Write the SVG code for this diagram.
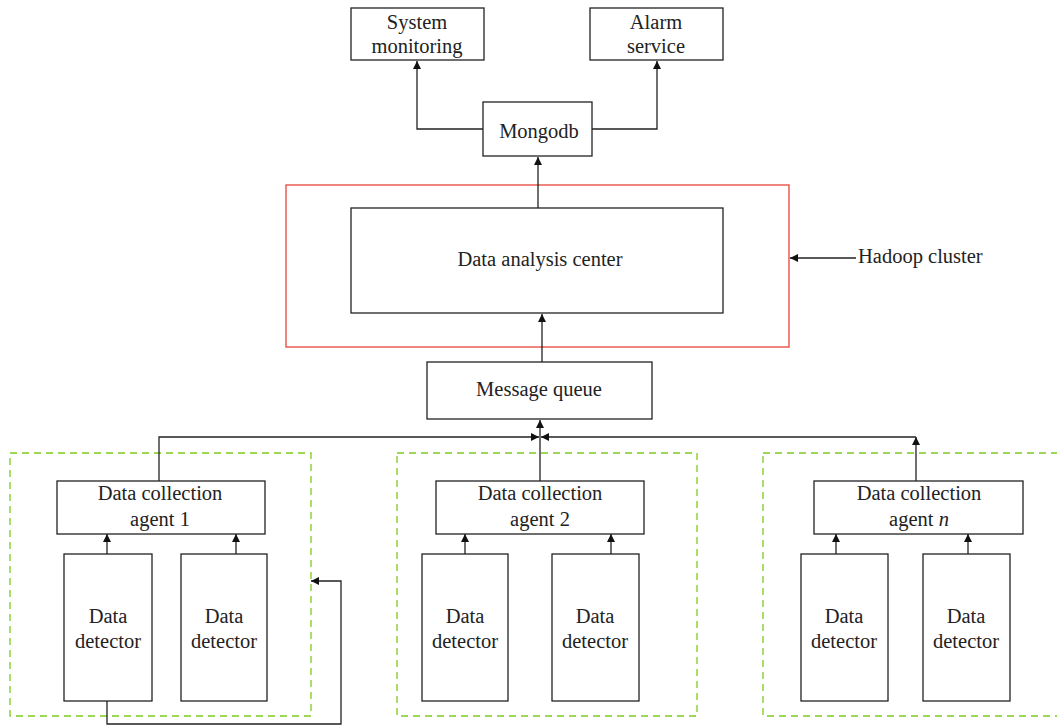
<svg xmlns="http://www.w3.org/2000/svg" width="1057" height="727" viewBox="0 0 1057 727">
  <style>
    .box { fill: #fff; stroke: #222; stroke-width: 1.3; }
    .cluster { fill: none; stroke: #e8423a; stroke-width: 1.3; }
    .group { fill: none; stroke: #7ccc1c; stroke-width: 1.3; stroke-dasharray: 7 5; }
    .wire { fill: none; stroke: #222; stroke-width: 1.3; }
    .arrow { fill: none; stroke: #222; stroke-width: 1.3; marker-end: url(#head); }
    text { font-family: "Liberation Serif", "Times New Roman", serif; font-size: 20.5px; fill: #222; text-anchor: middle; }
  </style>
  <defs>
    <marker id="head" viewBox="0 0 10 10" refX="10" refY="5" markerWidth="8" markerHeight="8" markerUnits="userSpaceOnUse" orient="auto">
      <path d="M0,0 L10,5 L0,10 Z" fill="#111"/>
    </marker>
  </defs>
  <rect width="1057" height="727" fill="#fff"/>

  <!-- group frames -->
  <rect class="cluster" x="286" y="185" width="503" height="162"/>
  <rect class="group" x="10" y="453" width="301" height="263"/>
  <rect class="group" x="397" y="453" width="300" height="263"/>
  <rect class="group" x="763" y="453" width="300" height="263"/>

  <g id="connectors">
    <!-- Mongodb to consumers -->
    <polyline class="arrow" points="483,129 417,129 417,61"/>
    <polyline class="arrow" points="592,129 657,129 657,61"/>
    <!-- analysis center to Mongodb -->
    <line class="arrow" x1="538" y1="208" x2="538" y2="157"/>
    <!-- message queue to analysis center -->
    <line class="arrow" x1="542" y1="362" x2="542" y2="314"/>
    <!-- Hadoop cluster pointer -->
    <line class="arrow" x1="856" y1="258" x2="790" y2="258"/>
    <!-- agents to message queue -->
    <polyline class="arrow" points="159,481 159,437 539,437"/>
    <line class="arrow" x1="916" y1="481" x2="916" y2="437"/>
    <line class="arrow" x1="916" y1="437" x2="541" y2="437"/>
    <line class="arrow" x1="540" y1="481" x2="540" y2="420"/>
    <!-- detector to agent arrows -->
    <line class="arrow" x1="107" y1="554" x2="107" y2="534"/>
    <line class="arrow" x1="236" y1="554" x2="236" y2="534"/>
    <line class="arrow" x1="465" y1="554" x2="465" y2="534"/>
    <line class="arrow" x1="611" y1="554" x2="611" y2="534"/>
    <line class="arrow" x1="836" y1="554" x2="836" y2="534"/>
    <line class="arrow" x1="968" y1="554" x2="968" y2="534"/>
    <!-- feedback loop from first detector -->
    <polyline class="arrow" points="107,701 107,724 341,724 341,581 311,581"/>
  </g>

  <g id="system-monitoring">
    <rect class="box" x="351" y="8" width="133" height="52"/>
    <text x="417" y="29">System</text>
    <text x="417" y="53">monitoring</text>
  </g>
  <g id="alarm-service">
    <rect class="box" x="590" y="8" width="133" height="52"/>
    <text x="656" y="29">Alarm</text>
    <text x="656" y="53">service</text>
  </g>
  <g id="mongodb">
    <rect class="box" x="483" y="102" width="109" height="54"/>
    <text x="539" y="138">Mongodb</text>
  </g>
  <g id="data-analysis-center">
    <rect class="box" x="351" y="208" width="372" height="105"/>
    <text x="540" y="266">Data analysis center</text>
  </g>
  <g id="hadoop-label">
    <text x="858" y="263" style="text-anchor: start">Hadoop cluster</text>
  </g>
  <g id="message-queue">
    <rect class="box" x="427" y="362" width="225" height="57"/>
    <text x="539" y="396">Message queue</text>
  </g>

  <g id="agent-1">
    <rect class="box" x="57" y="481" width="208" height="53"/>
    <text x="160" y="500">Data collection</text>
    <text x="160" y="526">agent 1</text>
  </g>
  <g id="detector-1a">
    <rect class="box" x="64" y="554" width="88" height="147"/>
    <text x="108" y="623">Data</text>
    <text x="108" y="648">detector</text>
  </g>
  <g id="detector-1b">
    <rect class="box" x="181" y="554" width="86" height="147"/>
    <text x="224" y="623">Data</text>
    <text x="224" y="648">detector</text>
  </g>

  <g id="agent-2">
    <rect class="box" x="436" y="481" width="208" height="53"/>
    <text x="540" y="500">Data collection</text>
    <text x="540" y="526">agent 2</text>
  </g>
  <g id="detector-2a">
    <rect class="box" x="422" y="554" width="86" height="147"/>
    <text x="465" y="623">Data</text>
    <text x="465" y="648">detector</text>
  </g>
  <g id="detector-2b">
    <rect class="box" x="552" y="554" width="87" height="147"/>
    <text x="595" y="623">Data</text>
    <text x="595" y="648">detector</text>
  </g>

  <g id="agent-n">
    <rect class="box" x="814" y="481" width="209" height="53"/>
    <text x="919" y="500">Data collection</text>
    <text x="919" y="526">agent <tspan font-style="italic">n</tspan></text>
  </g>
  <g id="detector-na">
    <rect class="box" x="801" y="554" width="87" height="147"/>
    <text x="844" y="623">Data</text>
    <text x="844" y="648">detector</text>
  </g>
  <g id="detector-nb">
    <rect class="box" x="923" y="554" width="87" height="147"/>
    <text x="966" y="623">Data</text>
    <text x="966" y="648">detector</text>
  </g>
</svg>
